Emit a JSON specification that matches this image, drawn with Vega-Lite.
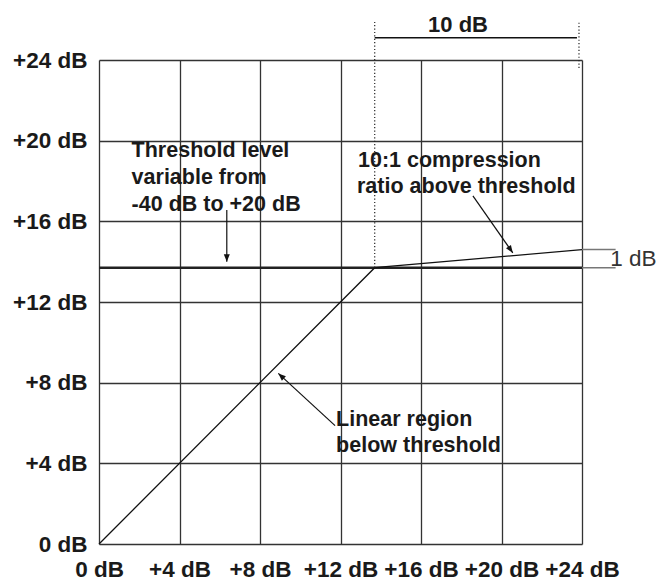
{
  "$schema": "https://vega.github.io/schema/vega-lite/v6.json",
  "width": 483,
  "height": 484,
  "autosize": {"type": "none"},
  "padding": {"left": 99, "top": 60, "right": 84, "bottom": 42},
  "background": "white",
  "config": {"view": {"stroke": null}, "font": "Liberation Sans"},
  "datasets": {
    "curve": [{"x": 0, "y": 0}, {"x": 13.7, "y": 13.7}, {"x": 24, "y": 14.6}],
    "threshold": [{"x": 0, "x2": 24, "y": 13.7}],
    "dotted": [{"x": 13.7, "y": 13.7, "y2": 25.88}, {"x": 23.85, "y": 23.6, "y2": 25.88}],
    "span": [{"x": 13.7, "x2": 23.75, "y": 25.1}],
    "ratio": [{"x": 24, "x2": 25.67, "y": 14.6}, {"x": 24, "x2": 25.67, "y": 13.7}],
    "shafts": [
      {"x": 6.35, "y": 16.56, "x2": 6.35, "y2": 14.0},
      {"x": 11.73, "y": 5.87, "x2": 8.91, "y2": 8.46},
      {"x": 18.58, "y": 17.26, "x2": 20.56, "y2": 14.44}
    ],
    "labels": [
      {"x": 1.62, "y": 19.2, "label": "Threshold level"},
      {"x": 1.62, "y": 17.86, "label": "variable from"},
      {"x": 1.62, "y": 16.51, "label": "-40 dB to +20 dB"},
      {"x": 12.87, "y": 18.68, "label": "10:1 compression"},
      {"x": 12.82, "y": 17.39, "label": "ratio above threshold"},
      {"x": 11.78, "y": 5.87, "label": "Linear region"},
      {"x": 11.78, "y": 4.58, "label": "below threshold"}
    ]
  },
  "encoding": {
    "x": {
      "field": "x", "type": "quantitative",
      "scale": {"domain": [0, 24], "nice": false, "zero": false},
      "axis": {
        "values": [0, 4, 8, 12, 16, 20, 24],
        "title": null, "grid": true, "gridColor": "#333", "gridWidth": 1.3, "gridOpacity": 1,
        "domain": false, "ticks": false,
        "labelExpr": "datum.value == 0 ? '0 dB' : '+' + datum.value + ' dB'",
        "labelFont": "Liberation Sans", "labelFontSize": 22.5, "labelFontWeight": "bold",
        "labelColor": "#1a1a1a", "labelPadding": 14, "labelFlush": false, "labelOverlap": false
      }
    },
    "y": {
      "field": "y", "type": "quantitative",
      "scale": {"domain": [0, 24], "nice": false, "zero": false},
      "axis": {
        "values": [0, 4, 8, 12, 16, 20, 24],
        "title": null, "grid": true, "gridColor": "#333", "gridWidth": 1.3, "gridOpacity": 1,
        "domain": false, "ticks": false,
        "labelExpr": "datum.value == 0 ? '0 dB' : '+' + datum.value + ' dB'",
        "labelFont": "Liberation Sans", "labelFontSize": 22.5, "labelFontWeight": "bold",
        "labelColor": "#1a1a1a", "labelPadding": 12, "labelFlush": false, "labelOverlap": false
      }
    }
  },
  "layer": [
    {
      "data": {"name": "threshold"},
      "mark": {"type": "rule", "color": "#222", "strokeWidth": 2.6},
      "encoding": {"x2": {"field": "x2"}}
    },
    {
      "data": {"name": "curve"},
      "mark": {"type": "line", "color": "#111", "strokeWidth": 1.3},
      "encoding": {}
    },
    {
      "data": {"name": "dotted"},
      "mark": {"type": "rule", "color": "#222", "strokeWidth": 1.2, "strokeDash": [1.2, 2.2]},
      "encoding": {"y2": {"field": "y2"}}
    },
    {
      "data": {"name": "span"},
      "mark": {"type": "rule", "color": "#111", "strokeWidth": 1.5},
      "encoding": {"x2": {"field": "x2"}}
    },
    {
      "data": {"name": "ratio"},
      "mark": {"type": "rule", "color": "#777", "strokeWidth": 1.5},
      "encoding": {"x2": {"field": "x2"}}
    },
    {
      "data": {"name": "shafts"},
      "mark": {"type": "rule", "color": "#111", "strokeWidth": 1.2},
      "encoding": {"x2": {"field": "x2"}, "y2": {"field": "y2"}}
    },
    {
      "data": {"values": [{"x": 6.35, "y": 14.0}]},
      "mark": {"type": "point", "shape": "M0,0L-0.6,1.5L0.6,1.5Z", "size": 100, "filled": true, "color": "#111", "opacity": 1, "strokeWidth": 0, "angle": 180},
      "encoding": {}
    },
    {
      "data": {"values": [{"x": 8.91, "y": 8.46}]},
      "mark": {"type": "point", "shape": "M0,0L-0.6,1.5L0.6,1.5Z", "size": 100, "filled": true, "color": "#111", "opacity": 1, "strokeWidth": 0, "angle": 312},
      "encoding": {}
    },
    {
      "data": {"values": [{"x": 20.56, "y": 14.44}]},
      "mark": {"type": "point", "shape": "M0,0L-0.6,1.5L0.6,1.5Z", "size": 100, "filled": true, "color": "#111", "opacity": 1, "strokeWidth": 0, "angle": 145},
      "encoding": {}
    },
    {
      "data": {"name": "labels"},
      "mark": {"type": "text", "align": "left", "baseline": "alphabetic", "font": "Liberation Sans", "fontSize": 21.5, "fontWeight": "bold", "color": "#1a1a1a"},
      "encoding": {"text": {"field": "label"}}
    },
    {
      "data": {"values": [{"x": 17.84, "y": 25.74, "label": "10 dB"}]},
      "mark": {"type": "text", "align": "center", "baseline": "middle", "font": "Liberation Sans", "fontSize": 22, "fontWeight": "bold", "color": "#1a1a1a"},
      "encoding": {"text": {"field": "label"}}
    },
    {
      "data": {"values": [{"x": 25.4, "y": 14.13, "label": "1 dB"}]},
      "mark": {"type": "text", "align": "left", "baseline": "middle", "font": "Liberation Sans", "fontSize": 22.5, "fontWeight": "normal", "color": "#333"},
      "encoding": {"text": {"field": "label"}}
    }
  ]
}
